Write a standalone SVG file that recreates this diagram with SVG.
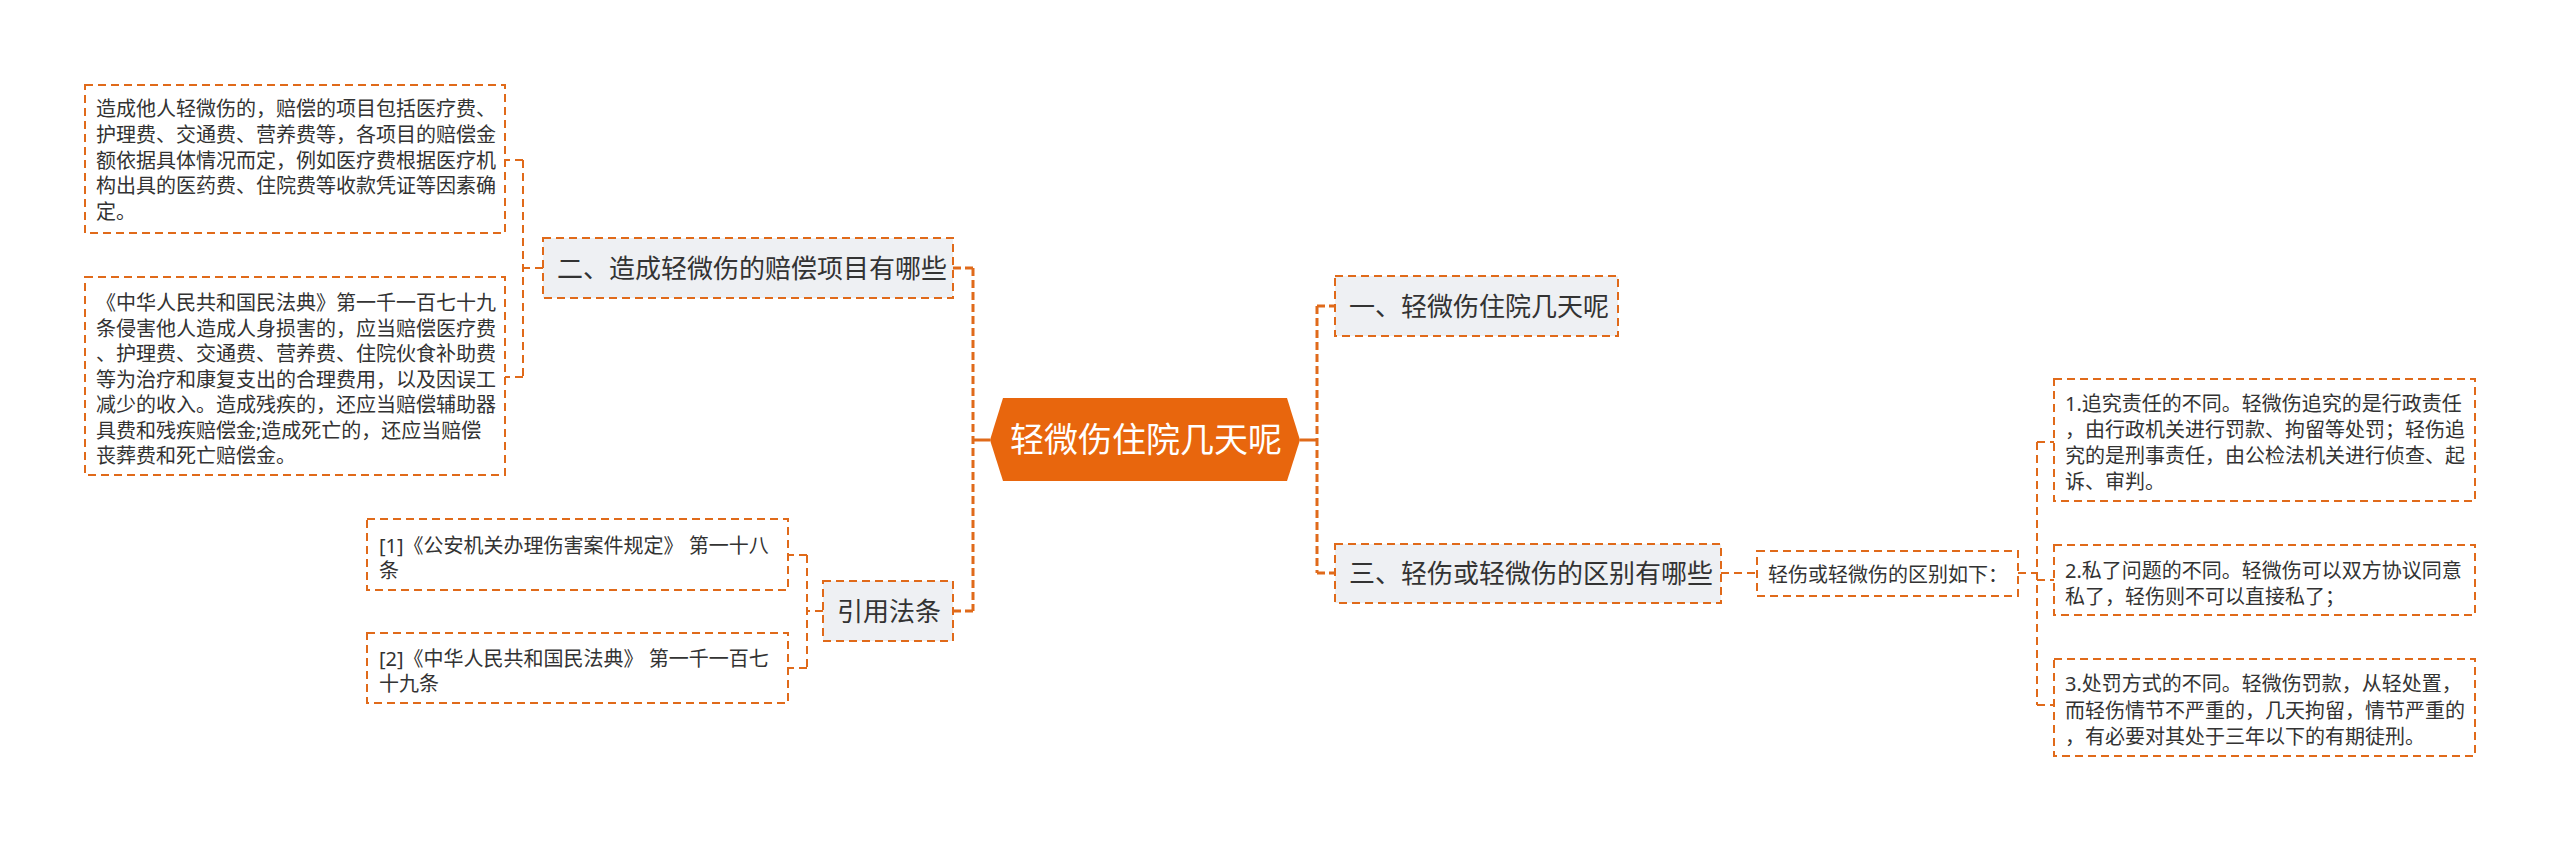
<svg xmlns="http://www.w3.org/2000/svg" width="2560" height="841" viewBox="0 0 2560 841">
<style>
.t{font-family:"Noto Sans","Noto Sans CJK SC",sans-serif;fill:#333333}
.s20{font-size:20px}
.s26{font-size:26px}
.box{fill:#ffffff;stroke:#E06A1A;stroke-width:2;stroke-dasharray:8 5}
.topic{fill:#EEF0F3;stroke:#E06A1A;stroke-width:2;stroke-dasharray:8 5}
.main{fill:none;stroke:#E06A1A;stroke-width:3;stroke-dasharray:8 4}
.sub{fill:none;stroke:#E06A1A;stroke-width:2;stroke-dasharray:8 5}
.solid{fill:none;stroke:#E06A1A;stroke-width:3}
</style>
<rect width="2560" height="841" fill="#ffffff"/>
<g id="connectors">
<path class="solid" d="M990 440H973M1300 440H1317"/>
<path class="main" d="M973 268V611M973 268H953M973 611H953"/>
<path class="main" d="M1317 306V573M1317 306H1335M1317 573H1335"/>
<path class="sub" d="M543 268H523M523 160V377M523 160H505M523 377H505"/>
<path class="sub" d="M823 611H807M807 555V668M807 555H788M807 668H788"/>
<path class="sub" d="M1721 573H1757"/>
<path class="sub" d="M2018 573H2037M2037 442V705M2037 442H2054M2037 580H2054M2037 705H2054"/>
</g>
<g id="center">
<polygon points="990,440 1003,398 1287,398 1300,440 1287,481 1003,481" fill="#E8660D"/>
<text x="1146" y="452" text-anchor="middle" font-family="Noto Sans, Noto Sans CJK SC, sans-serif" font-size="34" fill="#ffffff">轻微伤住院几天呢</text>
</g>
<g id="node-er">
<rect class="topic" x="543" y="238" width="410" height="60"/>
<text class="t s26" x="557" y="278">二、造成轻微伤的赔偿项目有哪些</text>
</g>
<g id="node-er-leaf1">
<rect class="box" x="85" y="85" width="420" height="148"/>
<text class="t s20" x="96" y="116">造成他人轻微伤的，赔偿的项目包括医疗费、</text>
<text class="t s20" x="96" y="141.75">护理费、交通费、营养费等，各项目的赔偿金</text>
<text class="t s20" x="96" y="167.5">额依据具体情况而定，例如医疗费根据医疗机</text>
<text class="t s20" x="96" y="193.25">构出具的医药费、住院费等收款凭证等因素确</text>
<text class="t s20" x="96" y="219">定。</text>
</g>
<g id="node-er-leaf2">
<rect class="box" x="85" y="277" width="420" height="198"/>
<text class="t s20" x="96" y="310">《中华人民共和国民法典》第一千一百七十九</text>
<text class="t s20" x="96" y="335.5">条侵害他人造成人身损害的，应当赔偿医疗费</text>
<text class="t s20" x="96" y="361">、护理费、交通费、营养费、住院伙食补助费</text>
<text class="t s20" x="96" y="386.5">等为治疗和康复支出的合理费用，以及因误工</text>
<text class="t s20" x="96" y="412">减少的收入。造成残疾的，还应当赔偿辅助器</text>
<text class="t s20" x="96" y="437.5">具费和残疾赔偿金;造成死亡的，还应当赔偿</text>
<text class="t s20" x="96" y="463">丧葬费和死亡赔偿金。</text>
</g>
<g id="node-yinyong">
<rect class="topic" x="823" y="581" width="130" height="60"/>
<text class="t s26" x="837" y="621">引用法条</text>
</g>
<g id="node-ref1">
<rect class="box" x="367" y="519" width="421" height="71"/>
<text class="t s20" x="379" y="553">[1]《公安机关办理伤害案件规定》 第一十八</text>
<text class="t s20" x="379" y="578">条</text>
</g>
<g id="node-ref2">
<rect class="box" x="367" y="633" width="421" height="70"/>
<text class="t s20" x="379" y="666">[2]《中华人民共和国民法典》 第一千一百七</text>
<text class="t s20" x="379" y="691">十九条</text>
</g>
<g id="node-yi">
<rect class="topic" x="1335" y="276" width="283" height="60"/>
<text class="t s26" x="1349" y="316">一、轻微伤住院几天呢</text>
</g>
<g id="node-san">
<rect class="topic" x="1335" y="544" width="386" height="59"/>
<text class="t s26" x="1349" y="583">三、轻伤或轻微伤的区别有哪些</text>
</g>
<g id="node-qubie">
<rect class="box" x="1757" y="551" width="261" height="45"/>
<text class="t s20" x="1768" y="582">轻伤或轻微伤的区别如下：</text>
</g>
<g id="node-diff1">
<rect class="box" x="2054" y="379" width="421" height="122"/>
<text class="t s20" x="2065" y="411">1.追究责任的不同。轻微伤追究的是行政责任</text>
<text class="t s20" x="2065" y="437">，由行政机关进行罚款、拘留等处罚；轻伤追</text>
<text class="t s20" x="2065" y="463">究的是刑事责任，由公检法机关进行侦查、起</text>
<text class="t s20" x="2065" y="489">诉、审判。</text>
</g>
<g id="node-diff2">
<rect class="box" x="2054" y="545" width="421" height="70"/>
<text class="t s20" x="2065" y="578">2.私了问题的不同。轻微伤可以双方协议同意</text>
<text class="t s20" x="2065" y="604">私了，轻伤则不可以直接私了；</text>
</g>
<g id="node-diff3">
<rect class="box" x="2054" y="659" width="421" height="97"/>
<text class="t s20" x="2065" y="691">3.处罚方式的不同。轻微伤罚款，从轻处置，</text>
<text class="t s20" x="2065" y="717.5">而轻伤情节不严重的，几天拘留，情节严重的</text>
<text class="t s20" x="2065" y="744">，有必要对其处于三年以下的有期徒刑。</text>
</g>
</svg>
